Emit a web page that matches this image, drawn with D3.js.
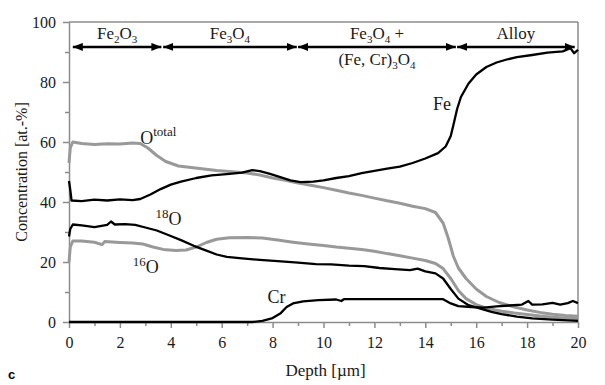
<!DOCTYPE html>
<html>
<head>
<meta charset="utf-8">
<script src="https://cdn.jsdelivr.net/npm/d3@7"></script>
<style>
body { margin: 0; background: #fff; }
.axis path, .axis line { stroke: #8c8c8c; stroke-width: 1.5; }
</style>
</head>
<body>
<svg id="chart" width="605" height="385"></svg>
<script>
// depth [um], concentration [at.-%]
var fe = [[0,47],[0.05,44],[0.1,40.5],[0.5,40.3],[1,40.8],[1.5,40.5],[2,40.9],[2.5,40.6],[2.8,41],[3.2,42.5],[3.6,44.3],[4,45.8],[4.4,46.8],[5,48],[5.6,48.9],[6.2,49.3],[6.8,49.8],[7.2,50.6],[7.5,50.3],[7.9,49.4],[8.3,48.3],[8.7,47.2],[9.1,46.6],[9.6,46.8],[10,47.2],[10.5,48],[11,48.6],[11.5,49.6],[12,50.4],[12.5,51.1],[13,51.8],[13.5,53],[14,54.5],[14.5,56.3],[14.8,58.5],[15,62],[15.1,65.5],[15.25,71],[15.4,75],[15.7,79.5],[16,82.5],[16.4,85],[16.8,86.5],[17.2,87.5],[17.6,88.3],[18.2,89],[18.8,89.8],[19.4,90.2],[19.7,91.3],[19.85,89.6],[20,90.7]];
var oTotal = [[0,53],[0.05,58],[0.15,60],[0.5,59.5],[1,59.2],[1.5,59.4],[2,59.3],[2.5,59.7],[2.8,59.5],[3.1,58],[3.45,55.5],[3.8,53.5],[4.3,52],[4.8,51.5],[5.3,51],[5.8,50.5],[6.3,50.2],[7,49.7],[7.5,49],[8,48],[8.5,47.2],[9,46.3],[9.5,45.6],[10,44.8],[10.5,43.9],[11,43],[11.5,42.2],[12,41.3],[12.5,40.4],[13,39.6],[13.5,38.6],[14,37.8],[14.4,36.5],[14.7,33],[14.9,28],[15.1,22],[15.3,18],[15.6,14.5],[16,11],[16.4,8.5],[16.9,6.5],[17.5,5],[18,4],[18.5,3.2],[19,2.6],[19.5,2.2],[20,1.9]];
var o16 = [[0,20],[0.05,25],[0.15,27],[0.5,27],[1,26.6],[1.3,25.8],[1.4,26.8],[2,26.5],[2.5,26.3],[2.9,26],[3.3,25],[3.7,24.2],[4.2,23.8],[4.6,24],[5,25],[5.4,26.5],[5.8,27.6],[6.3,28.1],[7,28.2],[7.6,28],[8.2,27.3],[8.8,26.6],[9.4,26],[10,25.5],[10.5,25],[11,24.6],[11.5,24.2],[12,23.6],[12.5,22.8],[13,22.1],[13.5,21.3],[14,20.5],[14.4,19.5],[14.7,17.8],[15,14.5],[15.3,10.5],[15.6,7.8],[16,5.8],[16.5,4.4],[17,3.6],[17.5,3],[18,2.5],[18.5,2],[19,1.6],[19.5,1.3],[20,1.1]];
var o18 = [[0,28.5],[0.05,31],[0.15,32.5],[0.5,32.2],[1,31.6],[1.5,32.4],[1.65,33.5],[1.8,32.5],[2.2,32.6],[2.6,32.4],[3,31.5],[3.45,30.5],[3.9,29],[4.4,27.3],[4.9,25.4],[5.4,23.8],[5.8,22.5],[6.2,21.7],[6.8,21.2],[7.5,20.7],[8.2,20.3],[9,19.8],[9.7,19.3],[10.3,19.2],[11,18.8],[11.6,18.6],[12.2,18],[12.8,17.6],[13.4,17.3],[13.7,17.8],[14,16.9],[14.4,16.2],[14.7,14.5],[15,11],[15.3,7.8],[15.7,5.6],[16.1,4.6],[16.6,3.4],[17,2.6],[17.6,1.8],[18.2,1.2],[19,0.8],[20,0.4]];
var cr = [[0,0],[7.2,0],[7.6,0.4],[8,1.3],[8.3,2.8],[8.55,5],[8.8,6.2],[9.2,6.9],[9.8,7.3],[10.5,7.5],[10.7,7],[10.8,7.6],[12,7.6],[13,7.6],[14,7.6],[14.7,7.6],[15,6.2],[15.3,5.3],[15.8,5],[16.3,4.8],[16.8,5.2],[17.3,5.5],[17.8,5.8],[18.05,7],[18.2,5.8],[18.6,5.9],[19,6.4],[19.3,5.8],[19.6,6.3],[19.8,7],[20,6.3]];

var xTicks = [0,2,4,6,8,10,12,14,16,18,20];
var yTicks = [0,20,40,60,80,100];

// phase bands along the top: [start, end] in um
var phases = [
    {start: 0.15, end: 3.63, label: [["Fe",0],["2",1],["O",0],["3",1]]},
    {start: 3.7, end: 8.95, label: [["Fe",0],["3",1],["O",0],["4",1]]},
    {start: 9.0, end: 15.2, label: [["Fe",0],["3",1],["O",0],["4",1],[" +",0]],
        label2: [["(Fe, Cr)",0],["3",1],["O",0],["4",1]]},
    {start: 15.25, end: 19.87, label: [["Alloy",0]]}
];
var phaseY = 91.7;

var series = [
    {data: o16, color: "#999", width: 3},
    {data: oTotal, color: "#999", width: 3},
    {data: fe, color: "#000", width: 2.3},
    {data: o18, color: "#000", width: 2.3},
    {data: cr, color: "#000", width: 2.3}
];

// curve labels
var curveLabels = [
    {x: 2.8, y: 59.5, text: "O", sup: "total", supFirst: false},
    {x: 14.3, y: 70.7, text: "Fe", sup: "", supFirst: false},
    {x: 3.4, y: 32.5, text: "O", sup: "18", supFirst: true},
    {x: 2.5, y: 16.3, text: "O", sup: "16", supFirst: true},
    {x: 7.8, y: 6.3, text: "Cr", sup: "", supFirst: false}
];

var serif = "'Liberation Serif'";

var svg = d3.select("#chart");
var margin = {top: 22, right: 27, bottom: 63, left: 69};
var width = 605 - margin.left - margin.right;
var height = 385 - margin.top - margin.bottom;

var x = d3.scaleLinear().domain([0, 20]).range([0, width]);
var y = d3.scaleLinear().domain([0, 100]).range([height, 0]);

var g = svg.append("g")
    .attr("transform", "translate(" + margin.left + "," + margin.top + ")");

// frame top/right
g.append("line").attr("x1", 0).attr("x2", width).attr("y1", 0).attr("y2", 0)
    .attr("stroke", "#8c8c8c").attr("stroke-width", 1.5);
g.append("line").attr("x1", width).attr("x2", width).attr("y1", 0).attr("y2", height)
    .attr("stroke", "#8c8c8c").attr("stroke-width", 1.5);

// minor ticks
g.append("g").attr("class", "axis")
    .attr("transform", "translate(0," + height + ")")
    .call(d3.axisBottom(x).tickValues(d3.range(1, 20, 2)).tickSize(4).tickFormat(""))
    .select(".domain").remove();
g.append("g").attr("class", "axis")
    .call(d3.axisLeft(y).tickValues(d3.range(10, 100, 20)).tickSize(4).tickFormat(""))
    .select(".domain").remove();

g.append("g").attr("class", "axis")
    .attr("transform", "translate(0," + height + ")")
    .call(d3.axisBottom(x).tickValues(xTicks).tickSize(6).tickPadding(9).tickSizeOuter(0));
g.append("g").attr("class", "axis")
    .call(d3.axisLeft(y).tickValues(yTicks).tickSize(6).tickPadding(7).tickSizeOuter(0));
g.selectAll(".axis text").attr("font-size", 16).attr("fill", "#222");

var line = d3.line()
    .x(function(d) { return x(d[0]); })
    .y(function(d) { return y(d[1]); });

series.forEach(function(s) {
    g.append("path")
        .datum(s.data)
        .attr("fill", "none")
        .attr("stroke", s.color)
        .attr("stroke-width", s.width)
        .attr("stroke-linejoin", "round")
        .attr("d", line);
});

// phase arrows
svg.append("defs").append("marker")
    .attr("id", "head")
    .attr("viewBox", "0 0 10 8")
    .attr("refX", 10).attr("refY", 4)
    .attr("markerWidth", 10).attr("markerHeight", 8)
    .attr("markerUnits", "userSpaceOnUse")
    .attr("orient", "auto-start-reverse")
    .append("path").attr("d", "M0,0 L10,4 L0,8 Z").attr("fill", "#000");

function richText(sel, parts) {
    parts.forEach(function(p, i) {
        var prev = i > 0 ? parts[i - 1][1] : 0;
        var dy = (p[1] - prev) * 4;
        sel.append("tspan")
            .attr("dy", dy)
            .attr("font-size", p[1] ? 11 : 17)
            .text(p[0]);
    });
}

phases.forEach(function(p) {
    g.append("line")
        .attr("x1", x(p.start)).attr("x2", x(p.end))
        .attr("y1", y(phaseY)).attr("y2", y(phaseY))
        .attr("stroke", "#000").attr("stroke-width", 2.5)
        .attr("marker-start", "url(#head)")
        .attr("marker-end", "url(#head)");
    var cx = (x(p.start) + x(p.end)) / 2;
    var t = g.append("text").attr("x", cx).attr("y", y(phaseY) - 8)
        .attr("text-anchor", "middle").attr("font-size", 17);
    richText(t, p.label);
    if (p.label2) {
        var t2 = g.append("text").attr("x", cx).attr("y", y(phaseY) + 18)
            .attr("text-anchor", "middle").attr("font-size", 17);
        richText(t2, p.label2);
    }
});

curveLabels.forEach(function(c) {
    var t = g.append("text").attr("x", x(c.x)).attr("y", y(c.y)).attr("font-size", 18);
    if (c.supFirst) {
        t.append("tspan").attr("font-size", 13).attr("dy", -7).text(c.sup);
        t.append("tspan").attr("dy", 7).text(c.text);
    } else {
        t.append("tspan").text(c.text);
        if (c.sup) t.append("tspan").attr("font-size", 13).attr("dy", -8).text(c.sup);
    }
});

// axis titles
svg.append("text")
    .attr("transform", "translate(27," + (margin.top + height / 2) + ") rotate(-90)")
    .attr("text-anchor", "middle").attr("font-size", 16)
    .text("Concentration [at.-%]");
svg.append("text")
    .attr("x", margin.left + width / 2 + 2).attr("y", 376)
    .attr("text-anchor", "middle").attr("font-size", 17)
    .text("Depth [µm]");

// every text in serif, set directly on the element
svg.selectAll("text").attr("font-family", serif).attr("fill", "#1a1a1a");

svg.append("text")
    .attr("x", 8).attr("y", 379)
    .attr("font-family", "'Liberation Sans'")
    .attr("font-weight", "bold").attr("font-size", 13)
    .text("c");
</script>
</body>
</html>
